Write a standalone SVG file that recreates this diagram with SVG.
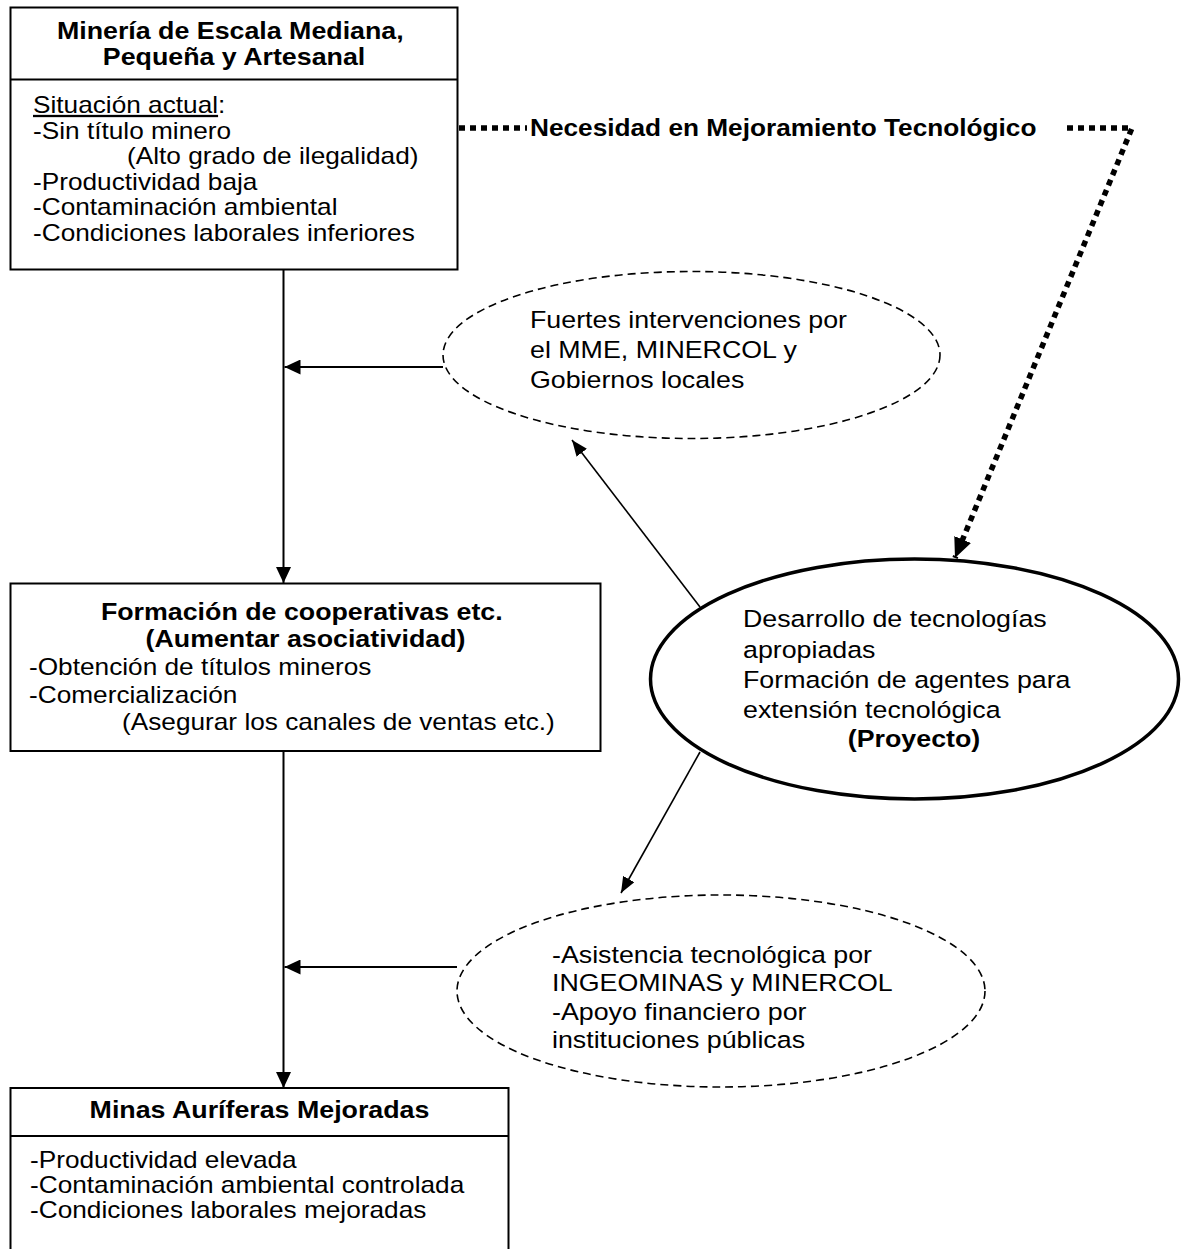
<svg xmlns="http://www.w3.org/2000/svg" width="1181" height="1249" viewBox="0 0 1181 1249">
<style>
  .box{fill:#fff;stroke:#000;stroke-width:2}
  .div{stroke:#000;stroke-width:2}
  .t{font-family:"Liberation Sans",Arial,sans-serif;font-size:23px;fill:#000}
  .te{font-family:"Liberation Sans",Arial,sans-serif;font-size:23.5px;fill:#000}
  .b{font-weight:bold;font-size:23.5px}
  .dash{fill:none;stroke:#000;stroke-width:1.6;stroke-dasharray:8 5}
  .proj{fill:none;stroke:#000;stroke-width:3.5}
  .conn{fill:none;stroke:#000;stroke-width:2}
  .thin{fill:none;stroke:#000;stroke-width:1.6}
  .dot{fill:none;stroke:#000;stroke-width:5.5;stroke-dasharray:6 5}
</style>
<defs>
  <marker id="arr" viewBox="0 0 16 15" refX="16" refY="7.5" markerWidth="16" markerHeight="15" markerUnits="userSpaceOnUse" orient="auto">
    <path d="M0,0 L16,7.5 L0,15 z" fill="#000"/>
  </marker>
  <marker id="arrS" viewBox="0 0 16 13" refX="16" refY="6.5" markerWidth="16" markerHeight="13" markerUnits="userSpaceOnUse" orient="auto">
    <path d="M0,0 L16,6.5 L0,13 z" fill="#000"/>
  </marker>
  <marker id="arrB" viewBox="0 0 20 18" refX="20" refY="9" markerWidth="20" markerHeight="18" markerUnits="userSpaceOnUse" orient="auto">
    <path d="M0,0 L20,9 L0,18 z" fill="#000"/>
  </marker>
</defs>

<g id="connectors">
  <line class="conn" x1="283.5" y1="270" x2="283.5" y2="583" marker-end="url(#arr)"/>
  <line class="conn" x1="283.5" y1="751" x2="283.5" y2="1088" marker-end="url(#arr)"/>
  <line class="conn" x1="443" y1="367" x2="284.5" y2="367" marker-end="url(#arr)"/>
  <line class="conn" x1="457" y1="967" x2="284.5" y2="967" marker-end="url(#arr)"/>
  <line class="thin" x1="700" y1="607" x2="572" y2="440" marker-end="url(#arrS)"/>
  <line class="thin" x1="700" y1="752" x2="621" y2="893" marker-end="url(#arrS)"/>
  <line class="dot" x1="459" y1="128" x2="527" y2="128"/>
  <polyline class="dot" points="1067,128 1132,128 955,558" marker-end="url(#arrB)"/>
  <text class="t b" font-size="23" transform="translate(530 0) scale(1.14 1)"><tspan x="0" y="136" style="font-size:23px">Necesidad en Mejoramiento Tecnológico</tspan></text>
</g>

<g id="node-mineria">
  <rect class="box" x="10.5" y="7.5" width="447" height="262"/>
  <line class="div" x1="10.5" y1="79.5" x2="457.5" y2="79.5"/>
  <text class="t b" text-anchor="middle" transform="translate(234 0) scale(1.14 1)">
    <tspan x="0" y="39">Minería de Escala Mediana,</tspan>
    <tspan x="0" y="65">Pequeña y Artesanal</tspan>
  </text>
  <text class="t" transform="translate(33 0) scale(1.14 1)">
    <tspan x="0" y="113"><tspan text-decoration="underline">Situación actual</tspan>:</tspan>
    <tspan x="0" y="139">-Sin título minero</tspan>
    <tspan x="82.5" y="164">(Alto grado de ilegalidad)</tspan>
    <tspan x="0" y="190">-Productividad baja</tspan>
    <tspan x="0" y="215">-Contaminación ambiental</tspan>
    <tspan x="0" y="241">-Condiciones laborales inferiores</tspan>
  </text>
</g>

<g id="node-intervenciones">
  <ellipse class="dash" cx="691.5" cy="355" rx="248.5" ry="83.5"/>
  <text class="te" transform="translate(530 0) scale(1.14 1)">
    <tspan x="0" y="328">Fuertes intervenciones por</tspan>
    <tspan x="0" y="358">el MME, MINERCOL y</tspan>
    <tspan x="0" y="388">Gobiernos locales</tspan>
  </text>
</g>

<g id="node-cooperativas">
  <rect class="box" x="10.5" y="583.5" width="590" height="167.5"/>
  <text class="t b" text-anchor="middle" transform="translate(305.5 0) scale(1.14 1)">
    <tspan x="0" y="620">Formación de cooperativas etc.</tspan>
    <tspan x="0" y="647">(Aumentar asociatividad)</tspan>
  </text>
  <text class="t" transform="translate(29 0) scale(1.14 1)">
    <tspan x="0" y="675">-Obtención de títulos mineros</tspan>
    <tspan x="0" y="703">-Comercialización</tspan>
    <tspan x="81.6" y="730">(Asegurar los canales de ventas etc.)</tspan>
  </text>
</g>

<g id="node-proyecto">
  <ellipse class="proj" cx="914.5" cy="679" rx="264" ry="120"/>
  <text class="te" transform="translate(743 0) scale(1.14 1)">
    <tspan x="0" y="627">Desarrollo de tecnologías</tspan>
    <tspan x="0" y="658">apropiadas</tspan>
    <tspan x="0" y="688">Formación de agentes para</tspan>
    <tspan x="0" y="718">extensión tecnológica</tspan>
  </text>
  <text class="te b" text-anchor="middle" transform="translate(914 0) scale(1.14 1)"><tspan x="0" y="747">(Proyecto)</tspan></text>
</g>

<g id="node-asistencia">
  <ellipse class="dash" cx="721" cy="991" rx="264" ry="96"/>
  <text class="te" transform="translate(552 0) scale(1.14 1)">
    <tspan x="0" y="963">-Asistencia tecnológica por</tspan>
    <tspan x="0" y="991.5">INGEOMINAS y MINERCOL</tspan>
    <tspan x="0" y="1020">-Apoyo financiero por</tspan>
    <tspan x="0" y="1048">instituciones públicas</tspan>
  </text>
</g>

<g id="node-minas">
  <rect class="box" x="10.5" y="1088" width="498" height="175"/>
  <line class="div" x1="10.5" y1="1136" x2="508.5" y2="1136"/>
  <text class="t b" text-anchor="middle" transform="translate(259.5 0) scale(1.14 1)"><tspan x="0" y="1118">Minas Auríferas Mejoradas</tspan></text>
  <text class="t" transform="translate(30 0) scale(1.14 1)">
    <tspan x="0" y="1168">-Productividad elevada</tspan>
    <tspan x="0" y="1193">-Contaminación ambiental controlada</tspan>
    <tspan x="0" y="1218">-Condiciones laborales mejoradas</tspan>
  </text>
</g>
</svg>
